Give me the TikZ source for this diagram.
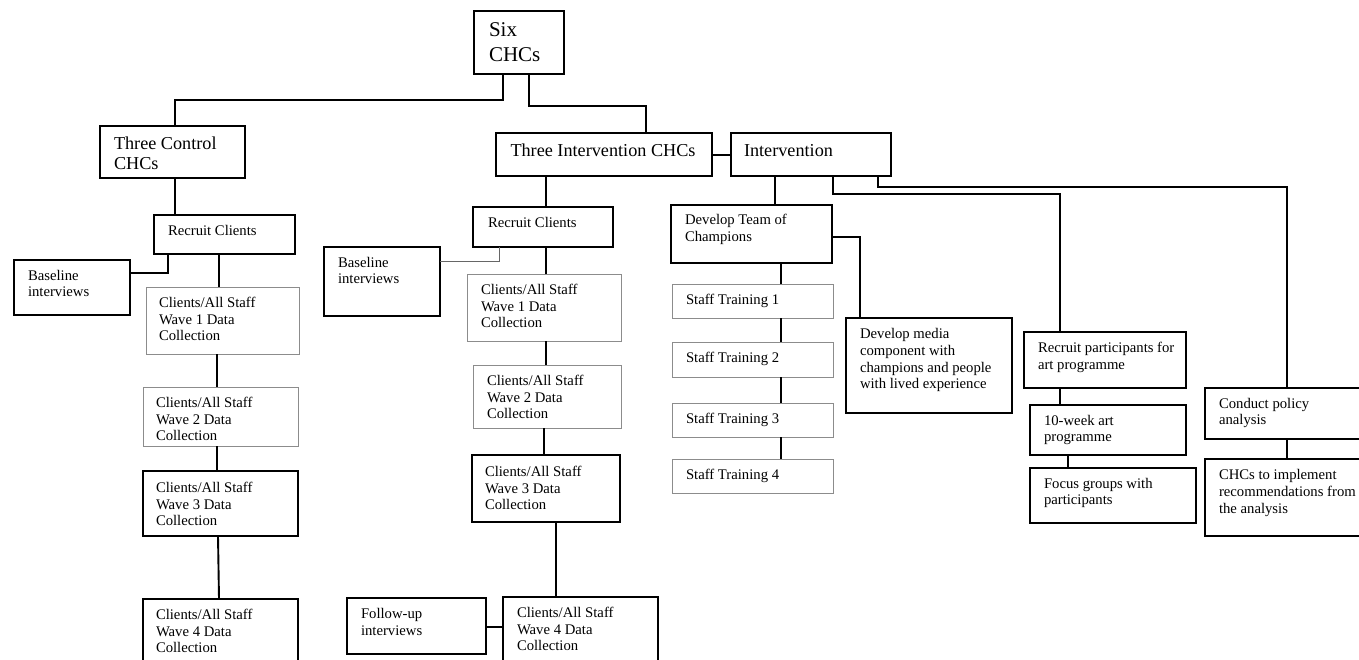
\documentclass[tikz,border=0pt]{standalone}
\usepackage{fontspec}
\setmainfont{Liberation Serif}
\tikzset{
  blk/.style={draw=black, line width=1.7pt, anchor=north west, inner sep=0pt, outer sep=0pt},
  gry/.style={draw=black!45, line width=1pt, anchor=north west, inner sep=0pt, outer sep=0pt},
  txt/.style={anchor=north west, inner sep=0pt, outer sep=0pt, align=left, font=\fontsize{14.7}{16.7}\selectfont},
  bigtxt/.style={txt, font=\fontsize{18.2}{20.5}\selectfont},
  hugetxt/.style={txt, font=\fontsize{21}{25}\selectfont},
  conn/.style={line width=1.9pt, draw=black},
  thinconn/.style={line width=0.8pt, draw=black!60},
}
\newcommand{\mybox}[9]{% name, style, x1, y1, w, h, textstyle, shift, text
  \node[#2, minimum width=#5pt, minimum height=#6pt] (#1) at (#3,#4) {};
  \node[#7] (#1-t) at ([shift={#8}]#1.north west) {#9};
}
\begin{document}
\begin{tikzpicture}[x=1pt,y=-1pt]
\useasboundingbox (0,0) rectangle (1359,659);
\begin{scope}
\clip (0,0) rectangle (1359,659);
% top
\mybox{six}{blk}{474}{11}{90}{63}{hugetxt}{(15,11.5)}{Six\\CHCs}
\mybox{ctrl}{blk}{100}{126}{145}{52}{bigtxt}{(14,10.5)}{Three Control\\CHCs}
\mybox{tint}{blk}{496}{133}{216}{43}{bigtxt}{(14.5,10.5)}{Three Intervention CHCs}
\mybox{intv}{blk}{731}{133}{160}{43}{bigtxt}{(13,11.5)}{Intervention}
% control branch
\mybox{recL}{blk}{154}{215}{141}{39}{txt}{(14,10)}{Recruit Clients}
\mybox{baseL}{blk}{14}{260}{116}{55}{txt}{(14,10)}{Baseline\\interviews}
\mybox{w1L}{gry}{146}{287}{153}{67}{txt}{(13,10)}{Clients/All Staff\\Wave 1 Data\\Collection}
\mybox{w2L}{gry}{143}{387}{155}{59}{txt}{(13,10)}{Clients/All Staff\\Wave 2 Data\\Collection}
\mybox{w3L}{blk}{143}{471}{155}{65}{txt}{(13,11)}{Clients/All Staff\\Wave 3 Data\\Collection}
\mybox{w4L}{blk}{143}{599}{155}{80}{txt}{(13,10)}{Clients/All Staff\\Wave 4 Data\\Collection}
% intervention CHC branch
\mybox{recR}{blk}{473}{207}{140}{40}{txt}{(15,10.5)}{Recruit Clients}
\mybox{baseR}{blk}{324}{247}{116}{69}{txt}{(14,10)}{Baseline\\interviews}
\mybox{w1R}{gry}{467}{274}{154}{67}{txt}{(14,10)}{Clients/All Staff\\Wave 1 Data\\Collection}
\mybox{w2R}{gry}{473}{365}{148}{63}{txt}{(14,10)}{Clients/All Staff\\Wave 2 Data\\Collection}
\mybox{w3R}{blk}{472}{455}{148}{67}{txt}{(13,11)}{Clients/All Staff\\Wave 3 Data\\Collection}
\mybox{w4R}{blk}{503}{597}{155}{83}{txt}{(14,10)}{Clients/All Staff\\Wave 4 Data\\Collection}
\mybox{fup}{blk}{347}{598}{139}{56}{txt}{(14,10.5)}{Follow-up\\interviews}
% intervention branch
\mybox{dev}{blk}{671}{205}{161}{58}{txt}{(14,9)}{Develop Team of\\Champions}
\mybox{media}{blk}{846}{318}{166}{95}{txt}{(14,10.5)}{Develop media\\component with\\champions and people\\with lived experience}
\mybox{st1}{gry}{672}{284}{161}{34}{txt}{(14,10)}{Staff Training 1}
\mybox{st2}{gry}{672}{342}{161}{35}{txt}{(14,10.5)}{Staff Training 2}
\mybox{st3}{gry}{672}{403}{161}{34}{txt}{(14,10)}{Staff Training 3}
\mybox{st4}{gry}{672}{459}{161}{34}{txt}{(14,10.5)}{Staff Training 4}
\mybox{rpart}{blk}{1024}{332}{162}{56}{txt}{(14,10)}{Recruit participants for\\art programme}
\mybox{wk10}{blk}{1030}{405}{156}{50}{txt}{(14,10)}{10-week art\\programme}
\mybox{focus}{blk}{1030}{468}{166}{55}{txt}{(14,10)}{Focus groups with\\participants}
\mybox{policy}{blk}{1205}{388}{157}{51}{txt}{(14,10)}{Conduct policy\\analysis}
\mybox{impl}{blk}{1205}{459}{157}{77}{txt}{(14,10.5)}{CHCs to implement\\recommendations from\\the analysis}
% connectors
\draw[conn] (503,0 |- six.south) -- (503,100) -- (175,100) -- (175,0 |- ctrl.north);
\draw[conn] (529,0 |- six.south) -- (529,106) -- (646,106) -- (646,0 |- tint.north);
\draw[conn] (tint.east |- 0,155) -- (intv.west |- 0,155);
\draw[conn] (175,0 |- ctrl.south) -- (175,0 |- recL.north);
\draw[conn] (168,0 |- recL.south) |- (baseL.east |- 0,273);
\draw[conn] (219,0 |- recL.south) -- (219,0 |- w1L.north);
\draw[conn] (217,0 |- w1L.south) -- (217,0 |- w2L.north);
\draw[conn] (217,0 |- w2L.south) -- (217,0 |- w3L.north);
\draw[conn] (218,0 |- w3L.south) -- (219,0 |- w4L.north);
\draw[conn] (546,0 |- tint.south) -- (546,0 |- recR.north);
\draw[thinconn] (499,0 |- recR.south) |- (baseR.east |- 0,261);
\draw[conn] (546,0 |- recR.south) -- (546,0 |- w1R.north);
\draw[conn] (546,0 |- w1R.south) -- (546,0 |- w2R.north);
\draw[conn] (544,0 |- w2R.south) -- (544,0 |- w3R.north);
\draw[conn] (556,0 |- w3R.south) -- (556,0 |- w4R.north);
\draw[conn] (fup.east |- 0,627) -- (w4R.west |- 0,627);
\draw[conn] (775,0 |- intv.south) -- (775,0 |- dev.north);
\draw[conn] (dev.east |- 0,237) -| (860,0 |- media.north);
\draw[conn] (781,0 |- dev.south) -- (781,0 |- st1.north);
\draw[conn] (781,0 |- st1.south) -- (781,0 |- st2.north);
\draw[conn] (781,0 |- st2.south) -- (781,0 |- st3.north);
\draw[conn] (781,0 |- st3.south) -- (781,0 |- st4.north);
\draw[conn] (833,0 |- intv.south) |- (1060,194) -- (1060,0 |- rpart.north);
\draw[conn] (878,0 |- intv.south) |- (1287,187) -- (1287,0 |- policy.north);
\draw[conn] (1060,0 |- rpart.south) -- (1060,0 |- wk10.north);
\draw[conn] (1068,0 |- wk10.south) -- (1068,0 |- focus.north);
\draw[conn] (1287,0 |- policy.south) -- (1287,0 |- impl.north);
\end{scope}
\end{tikzpicture}
\end{document}
